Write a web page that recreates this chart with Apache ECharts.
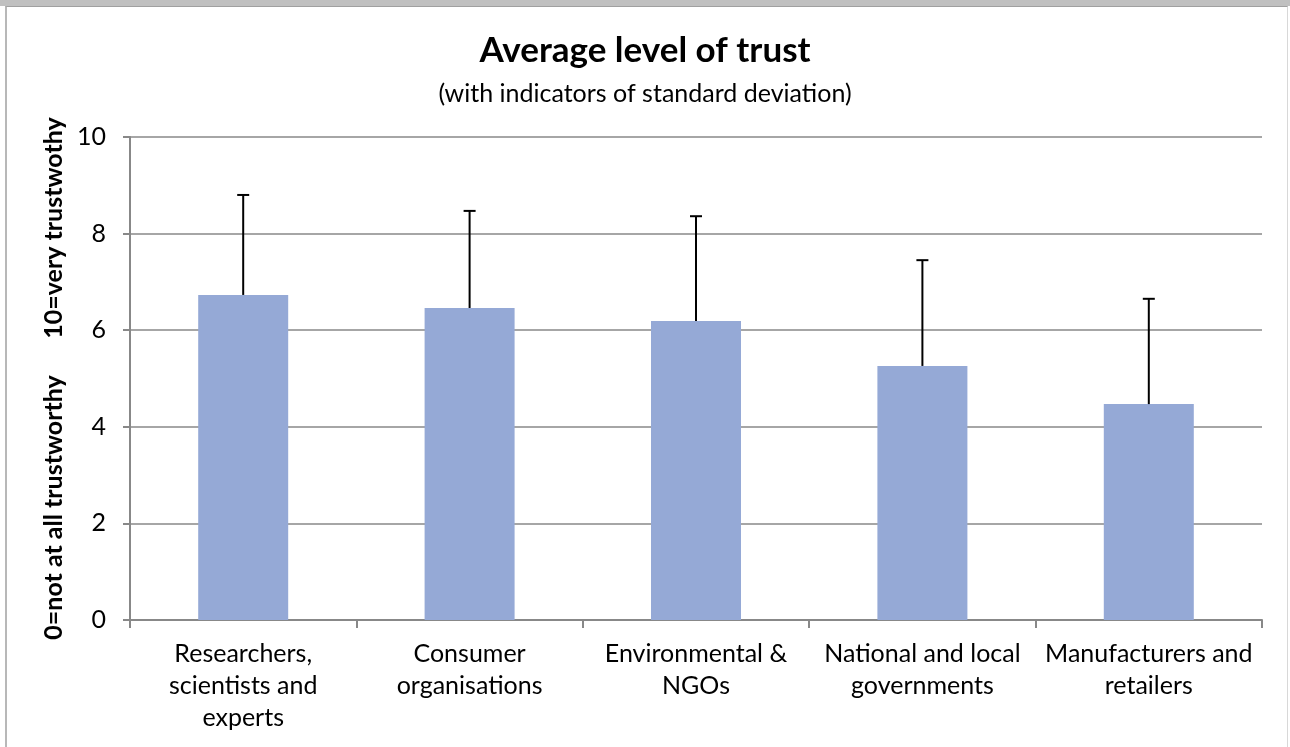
<!DOCTYPE html>
<html><head><meta charset="utf-8">
<script src="https://cdn.jsdelivr.net/npm/echarts@6/dist/echarts.min.js"></script>
<style>
html,body{margin:0;padding:0;background:#fff;}
#frame{position:absolute;left:0;top:0;width:1290px;height:747px;box-sizing:border-box;border-top:6px solid #c0c0c0;}
#inner{position:absolute;left:5px;top:0;width:1283px;height:741px;box-sizing:border-box;border-left:2px solid #b8b8b8;border-right:1px solid #d8d8d8;border-top:1px solid #a0a0a0;}
#chart{position:absolute;left:0;top:0;width:1290px;height:747px;}
</style></head>
<body>
<div id="frame"><div id="inner"></div></div>
<div id="chart"></div>
<script>
const categories = ["Researchers,\nscientists and\nexperts","Consumer\norganisations","Environmental &\nNGOs","National and local\ngovernments","Manufacturers and\nretailers"];
const means = [6.73, 6.46, 6.19, 5.26, 4.47];
const upper = [8.80, 8.47, 8.36, 7.45, 6.65];
const yTicks = [0, 2, 4, 6, 8, 10];

const font = 'Lato, "Open Sans", sans-serif';
const chart = echarts.init(document.getElementById('chart'), null, {renderer:'canvas'});
chart.setOption({
  animation:false,
  backgroundColor:'transparent',
  title:[
    {text:'Average level of trust', left:'center', top:28, textStyle:{fontFamily:font, fontSize:35, fontWeight:'bold', color:'#000'}},
    {text:'(with indicators of standard deviation)', left:'center', top:76, textStyle:{fontFamily:font, fontSize:25, fontWeight:'normal', color:'#000'}}
  ],
  grid:{left:130, right:28, top:137, bottom:127, containLabel:false},
  xAxis:{
    type:'category', data:categories,
    axisLine:{lineStyle:{color:'#888', width:2}},
    axisTick:{show:true, length:8, alignWithLabel:false, lineStyle:{color:'#888', width:2}},
    axisLabel:{fontFamily:font, fontSize:25, color:'#000', lineHeight:32, margin:18, interval:0}
  },
  yAxis:{
    type:'value', min:0, max:10, interval:2,
    name:'0=not at all trustworthy      10=very trustwothy',
    nameLocation:'middle', nameGap:64, nameRotate:90,
    nameTextStyle:{fontFamily:font, fontSize:25, fontWeight:'bold', color:'#000'},
    axisLine:{show:true, lineStyle:{color:'#888', width:2}},
    axisTick:{show:true, length:7, lineStyle:{color:'#888', width:2}},
    axisLabel:{fontFamily:font, fontSize:25, color:'#000', margin:24,
      formatter:v=> yTicks.includes(v) ? String(v) : ''},
    splitLine:{lineStyle:{color:'#888', width:1.5}}
  },
  series:[
    {type:'bar', data:means, barWidth:90, itemStyle:{color:'#95a9d6'}, z:2},
    {type:'custom', z:3,
      data:upper.map((u,i)=>[i, means[i], u]),
      renderItem:(params, api)=>{
        const x = api.value(0);
        const p0 = api.coord([x, api.value(1)]);
        const p1 = api.coord([x, api.value(2)]);
        const cap = 6;
        return {type:'group', children:[
          {type:'line', shape:{x1:p0[0], y1:p0[1], x2:p1[0], y2:p1[1]}, style:{stroke:'#000', lineWidth:2}},
          {type:'line', shape:{x1:p1[0]-cap, y1:p1[1], x2:p1[0]+cap, y2:p1[1]}, style:{stroke:'#000', lineWidth:2}}
        ]};
      }
    }
  ]
});
</script>
</body></html>
